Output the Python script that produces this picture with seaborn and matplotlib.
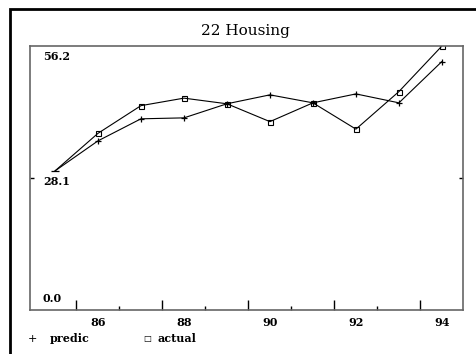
import matplotlib
matplotlib.use("Agg")
import matplotlib.pyplot as plt
import matplotlib.transforms as mtransforms
from matplotlib.patches import Rectangle
import seaborn as sns
import pandas as pd

years = [85, 86, 87, 88, 89, 90, 91, 92, 93, 94]
predic = [29.6, 36.0, 40.7, 40.9, 43.9, 45.8, 44.1, 46.0, 44.1, 52.9]
actual = [29.6, 37.6, 43.5, 45.1, 43.9, 40.1, 44.1, 38.5, 46.5, 56.2]
xlabels = ["86", "88", "90", "92", "94"]
xlabel_pos = [86, 88, 90, 92, 94]
ylabels = ["56.2", "28.1", "0.0"]
yvals = [56.2, 28.1, 0.0]
title = "22 Housing"

sns.set_style("white")
plt.rcParams['font.family'] = ['DejaVu Serif', 'DejaVu Sans']
plt.rcParams['text.color'] = 'black'

fig = plt.figure(figsize=(4.77, 3.54), dpi=100)
ax = fig.add_axes([30/477, 1-310/354, 433/477, 264/354])

df = pd.DataFrame({"year": years, "predic": predic, "actual": actual})
marks = list(range(1, len(years)))
sns.lineplot(data=df, x="year", y="predic", ax=ax, color="black", lw=0.8,
             marker="+", markersize=5, markeredgewidth=0.9,
             markeredgecolor="black", markevery=marks)
sns.lineplot(data=df, x="year", y="actual", ax=ax, color="black", lw=0.8,
             marker="s", markersize=3.6, markerfacecolor="none",
             markeredgecolor="black", markeredgewidth=0.8, markevery=marks)
# small starting dash at the first point
sns.lineplot(x=[years[0], years[0]], y=[actual[0], actual[0]], ax=ax,
             color="black", marker="_", markersize=6, markeredgewidth=0.9,
             markeredgecolor="black", lw=0)

ax.set_xlim(84.42, 94.49)
ax.set_ylim(0, 56.2)
ax.set_xlabel("")
ax.set_ylabel("")

for s in ax.spines.values():
    s.set_color("#666666")
    s.set_linewidth(1.2)

ax.set_xticks([85.5, 87.5, 89.5, 91.5, 93.5])
ax.set_xticklabels([])
ax.set_xticks([86.5, 88.5, 90.5, 92.5], minor=True)
ax.tick_params(axis="x", which="major", direction="in", length=7, width=1, color="black", bottom=True, top=False)
ax.tick_params(axis="x", which="minor", direction="in", length=3, width=1, color="black", bottom=True, top=False)
ax.set_yticks([28.1])
ax.set_yticklabels([])
ax.tick_params(axis="y", direction="in", length=3, width=1, color="black", left=True, right=True)

tr = mtransforms.blended_transform_factory(ax.transData, ax.transAxes)
for p, l in zip(xlabel_pos, xlabels):
    ax.text(p, -13/264, l, transform=tr, ha="center", va="center",
            fontsize=8, fontweight="bold", color="black")

for v, l, yf in zip(yvals, ylabels, [0.962, 0.485, 0.045]):
    ax.text(13/433, yf, l, transform=ax.transAxes, ha="left", va="center",
            fontsize=8, fontweight="bold", color="black")

fig.text(245/477, 1-31/354, title, ha="center", va="center", fontsize=11,
         color="black")

# legend
fig.text(32/477, 1-339/354, "+", ha="center", va="center", fontsize=8, color="black")
fig.text(50/477, 1-339/354, "predic", ha="left", va="center", fontsize=8,
         fontweight="bold", color="black")
fig.text(147/477, 1-339/354, "\u25a1", ha="center", va="center", fontsize=6, color="black")
fig.text(158/477, 1-339/354, "actual", ha="left", va="center", fontsize=8,
         fontweight="bold", color="black")

fig.add_artist(Rectangle((10/477, -0.2), 1.2, 1.2 - 9/354, transform=fig.transFigure,
                         fill=False, edgecolor="black", linewidth=2))

fig.savefig("out.png", dpi=100)
